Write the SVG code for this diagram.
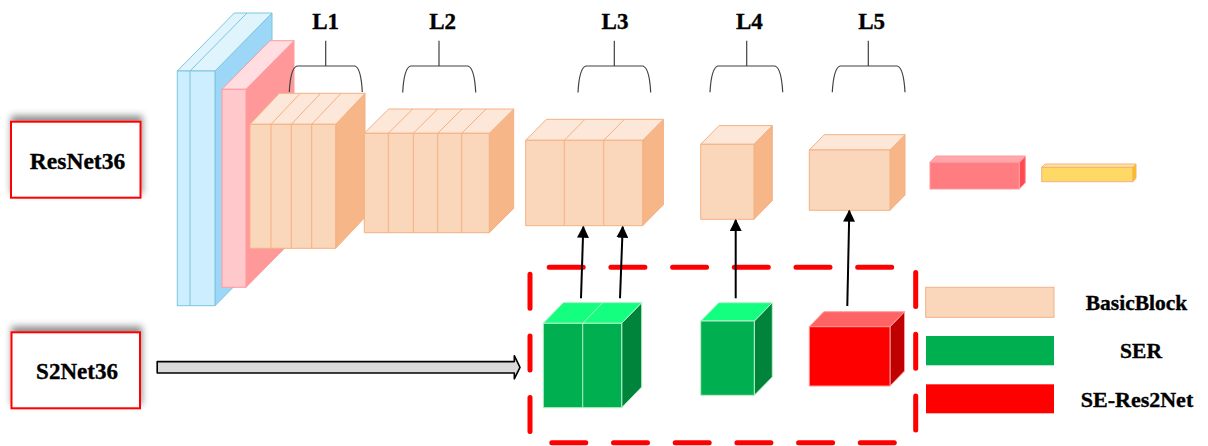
<svg xmlns="http://www.w3.org/2000/svg" width="1208" height="446" viewBox="0 0 1208 446">
  <defs>
    <filter id="softShadow" x="-20%" y="-30%" width="140%" height="160%">
      <feDropShadow dx="1" dy="-5" stdDeviation="3.5" flood-color="#000" flood-opacity="0.45"/>
    </filter>
    <marker id="arrowHead" viewBox="0 0 12 12" refX="11" refY="6" markerWidth="12" markerHeight="12" markerUnits="userSpaceOnUse" orient="auto">
      <path d="M0,0 L12,6 L0,12 Z" fill="#000"/>
    </marker>
  </defs>
  <style>
    .lbl { font-family: "Liberation Serif", "Times New Roman", serif; font-weight: bold; fill: #000; stroke: #000; stroke-width: 0.35; text-anchor: middle; }
    .brace { fill: none; stroke: #404040; stroke-width: 1.2; }
    .org { stroke: #f4b183; stroke-width: 1; stroke-linejoin: round; }
    .org .f { fill: #fad7bb; } .org .t { fill: #fde7d8; } .org .s { fill: #f6b688; }
    .blu { stroke: #7fc5da; stroke-width: 1; }
    .blu .f { fill: #cdeefe; } .blu .t { fill: #e0f4fd; } .blu .s { fill: #9dd7f8; }
    .pnk { stroke: #ff9aa0; stroke-width: 1; }
    .pnk .f { fill: #ffc8cb; } .pnk .t { fill: #ffdde0; } .pnk .s { fill: #ff9999; }
    .grn { stroke: #b8f0c8; stroke-width: 1; }
    .grn .f { fill: #00b050; } .grn .t { fill: #14ff7f; } .grn .s { fill: #00843c; }
    .red { stroke: #ff9a9a; stroke-width: 1; }
    .red .f { fill: #ff0000; } .red .t { fill: #ff6464; } .red .s { fill: #c00000; }
    .rbar { stroke: #ff9aa0; stroke-width: 1; }
    .rbar .f { fill: #ff7c80; } .rbar .t { fill: #ffa8ab; } .rbar .s { fill: #ff4a50; }
    .ybar { stroke: #f4b183; stroke-width: 1; }
    .ybar .f { fill: #ffd966; } .ybar .t { fill: #ffe699; } .ybar .s { fill: #ffc000; }
    .div { fill: none; }
    .namebox { fill: #fff; stroke: #ff0000; stroke-width: 2; }
    .conn { stroke: #000; stroke-width: 2; fill: none; }
    .dash { stroke: #ff0000; stroke-width: 5; stroke-linecap: round; stroke-dasharray: 34 27.7; fill: none; }
  </style>

  <!-- input stem slabs -->
  <g id="stem-conv" class="blu">
    <path class="s" d="M215,71 L272,13 L272,248 L215,305.7 Z"/>
    <path class="t" d="M177.3,71 L215,71 L272,13 L234.3,13 Z"/>
    <rect class="f" x="177.3" y="71" width="37.7" height="234.7"/>
    <path class="div" d="M190,71 L190,305.7 M190,71 L247,13"/>
  </g>
  <g id="stem-bn" class="pnk">
    <path class="s" d="M246,89.3 L294,40.7 L294,238.7 L246,287.3 Z"/>
    <path class="t" d="M222,89.3 L246,89.3 L294,40.7 L270,40.7 Z"/>
    <rect class="f" x="222" y="89.3" width="24" height="198"/>
  </g>

  <!-- residual stages -->
  <g id="layer1" class="org">
    <path class="s" d="M335.7,124.3 L365,93.3 L365,217.3 L335.7,248.3 Z"/>
    <path class="t" d="M250,124.3 L335.7,124.3 L365,93.3 L279.3,93.3 Z"/>
    <rect class="f" x="250" y="124.3" width="85.7" height="124"/>
    <path class="div" d="M271,124.3 V248.3 M271,124.3 L300.3,93.3 M291.3,124.3 V248.3 M291.3,124.3 L320.6,93.3 M311.7,124.3 V248.3 M311.7,124.3 L341,93.3"/>
  </g>
  <g id="layer2" class="org">
    <path class="s" d="M489.3,133.3 L513.7,109 L513.7,208.4 L489.3,232.7 Z"/>
    <path class="t" d="M364.3,133.3 L489.3,133.3 L513.7,109 L388.7,109 Z"/>
    <rect class="f" x="364.3" y="133.3" width="125" height="99.4"/>
    <path class="div" d="M388.3,133.3 V232.7 M388.3,133.3 L412.7,109 M413.3,133.3 V232.7 M413.3,133.3 L437.7,109 M437.7,133.3 V232.7 M437.7,133.3 L462.1,109 M461.7,133.3 V232.7 M461.7,133.3 L486.1,109"/>
  </g>
  <g id="layer3" class="org">
    <path class="s" d="M642.7,140.3 L663.4,119.3 L663.4,204.7 L642.7,225.7 Z"/>
    <path class="t" d="M525.7,140.3 L642.7,140.3 L663.4,119.3 L546.4,119.3 Z"/>
    <rect class="f" x="525.7" y="140.3" width="117" height="85.4"/>
    <path class="div" d="M564.3,140.3 V225.7 M564.3,140.3 L585,119.3 M603.7,140.3 V225.7 M603.7,140.3 L624.4,119.3"/>
  </g>
  <g id="layer4" class="org">
    <path class="s" d="M754,144.3 L772.3,125.6 L772.3,200.6 L754,219.3 Z"/>
    <path class="t" d="M700.7,144.3 L754,144.3 L772.3,125.6 L719,125.6 Z"/>
    <rect class="f" x="700.7" y="144.3" width="53.3" height="75"/>
  </g>
  <g id="layer5" class="org">
    <path class="s" d="M890,150 L905,134.7 L905,195 L890,210.3 Z"/>
    <path class="t" d="M809.3,150 L890,150 L905,134.7 L824.3,134.7 Z"/>
    <rect class="f" x="809.3" y="150" width="80.7" height="60.3"/>
  </g>
  <g id="pool" class="rbar">
    <path class="s" d="M1019.3,162.3 L1025.3,156 L1025.3,182.7 L1019.3,189 Z"/>
    <path class="t" d="M930,162.3 L1019.3,162.3 L1025.3,156 L936,156 Z"/>
    <rect class="f" x="930" y="162.3" width="89.3" height="26.7"/>
  </g>
  <g id="fc" class="ybar">
    <path class="s" d="M1132.7,167.3 L1136,164 L1136,178.4 L1132.7,181.7 Z"/>
    <path class="t" d="M1041.7,167.3 L1132.7,167.3 L1136,164 L1045,164 Z"/>
    <rect class="f" x="1041.7" y="167.3" width="91" height="14.4"/>
  </g>

  <!-- stage labels with braces -->
  <g id="label-L1">
    <text class="lbl" x="325.7" y="28.5" font-size="23">L1</text>
    <path class="brace" d="M325.7,40.7 V66 M289.3,92 Q290.5,68 297,66 L355,66 Q361,68 362.3,92"/>
  </g>
  <g id="label-L2">
    <text class="lbl" x="442.7" y="28.5" font-size="23">L2</text>
    <path class="brace" d="M439,40.7 V66 M402.7,92.5 Q404,68 410.5,66 L468,66 Q474.5,68 475.7,92.5"/>
  </g>
  <g id="label-L3">
    <text class="lbl" x="615" y="28.5" font-size="23">L3</text>
    <path class="brace" d="M614.3,40.7 V66 M578,92.5 Q579.3,68 585.8,66 L643,66 Q649.4,68 650.7,92.5"/>
  </g>
  <g id="label-L4">
    <text class="lbl" x="749.3" y="28.5" font-size="23">L4</text>
    <path class="brace" d="M746.7,40.7 V66 M710,92.3 Q711.3,68 717.8,66 L775,66 Q781.4,68 782.7,92.3"/>
  </g>
  <g id="label-L5">
    <text class="lbl" x="871.7" y="28.5" font-size="23">L5</text>
    <path class="brace" d="M868.3,40.7 V66 M832.3,92.3 Q833.6,68 840.1,66 L897.3,66 Q903.7,68 905,92.3"/>
  </g>

  <!-- network name boxes -->
  <g id="resnet36">
    <rect class="namebox" x="11" y="121.7" width="129.5" height="76" filter="url(#softShadow)"/>
    <text class="lbl" x="77.5" y="168.5" font-size="23.5">ResNet36</text>
  </g>
  <g id="s2net36">
    <rect class="namebox" x="11.5" y="332.3" width="128.5" height="76" filter="url(#softShadow)"/>
    <text class="lbl" x="77" y="379" font-size="23">S2Net36</text>
  </g>

  <!-- replacement region: each side dashed on its own so the corners stay open -->
  <g id="replace-region">
    <line class="dash" x1="549.2" y1="267.3" x2="915" y2="267.3"/>
    <line class="dash" x1="551.8" y1="442.7" x2="915" y2="442.7"/>
    <line class="dash" x1="530" y1="274.2" x2="530" y2="442"/>
    <line class="dash" x1="915.7" y1="272.5" x2="915.7" y2="442"/>
  </g>
  <g id="ser-l3" class="grn">
    <path class="s" d="M621.7,323.3 L641.7,302.6 L641.7,387 L621.7,407.7 Z"/>
    <path class="t" d="M543.3,323.3 L621.7,323.3 L641.7,302.6 L563.3,302.6 Z"/>
    <rect class="f" x="543.3" y="323.3" width="78.4" height="84.4"/>
    <path class="div" d="M582.7,323.3 V407.7 M582.7,323.3 L602.7,302.6"/>
  </g>
  <g id="ser-l4" class="grn">
    <path class="s" d="M754.3,321 L772.3,302.7 L772.3,377 L754.3,395.3 Z"/>
    <path class="t" d="M700.7,321 L754.3,321 L772.3,302.7 L718.7,302.7 Z"/>
    <rect class="f" x="700.7" y="321" width="53.6" height="74.3"/>
  </g>
  <g id="seres2net-l5" class="red">
    <path class="s" d="M890,326.7 L904.5,311.7 L904.5,371 L890,386 Z"/>
    <path class="t" d="M809.3,326.7 L890,326.7 L904.5,311.7 L823.8,311.7 Z"/>
    <rect class="f" x="809.3" y="326.7" width="80.7" height="59.3"/>
  </g>

  <!-- legend -->
  <g id="legend">
    <rect x="925.7" y="287.3" width="128.3" height="30" fill="#fad7bb" stroke="#f4b183" stroke-width="1"/>
    <rect x="926" y="336" width="128" height="29.3" fill="#00b050"/>
    <rect x="926" y="384.3" width="128" height="29" fill="#ff0000"/>
    <text class="lbl" x="1136.5" y="310" font-size="21.5">BasicBlock</text>
    <text class="lbl" x="1141" y="358.3" font-size="21.5">SER</text>
    <text class="lbl" x="1137" y="406.7" font-size="22">SE-Res2Net</text>
  </g>

  <!-- connectors -->
  <g id="connectors">
    <path d="M157.2,361.6 L514.3,361.6 L514.3,355.7 L520,367.3 L514.3,378.8 L514.3,373 L157.2,373 Z" fill="#d9d9d9" stroke="#000" stroke-width="1.6" stroke-linejoin="round"/>
    <line class="conn" x1="581" y1="298.3" x2="583.3" y2="226.7" marker-end="url(#arrowHead)"/>
    <line class="conn" x1="620" y1="298.3" x2="622.7" y2="226.7" marker-end="url(#arrowHead)"/>
    <line class="conn" x1="735.7" y1="298.3" x2="735.7" y2="220" marker-end="url(#arrowHead)"/>
    <line class="conn" x1="847.3" y1="306" x2="849.3" y2="210.7" marker-end="url(#arrowHead)"/>
  </g>
</svg>
